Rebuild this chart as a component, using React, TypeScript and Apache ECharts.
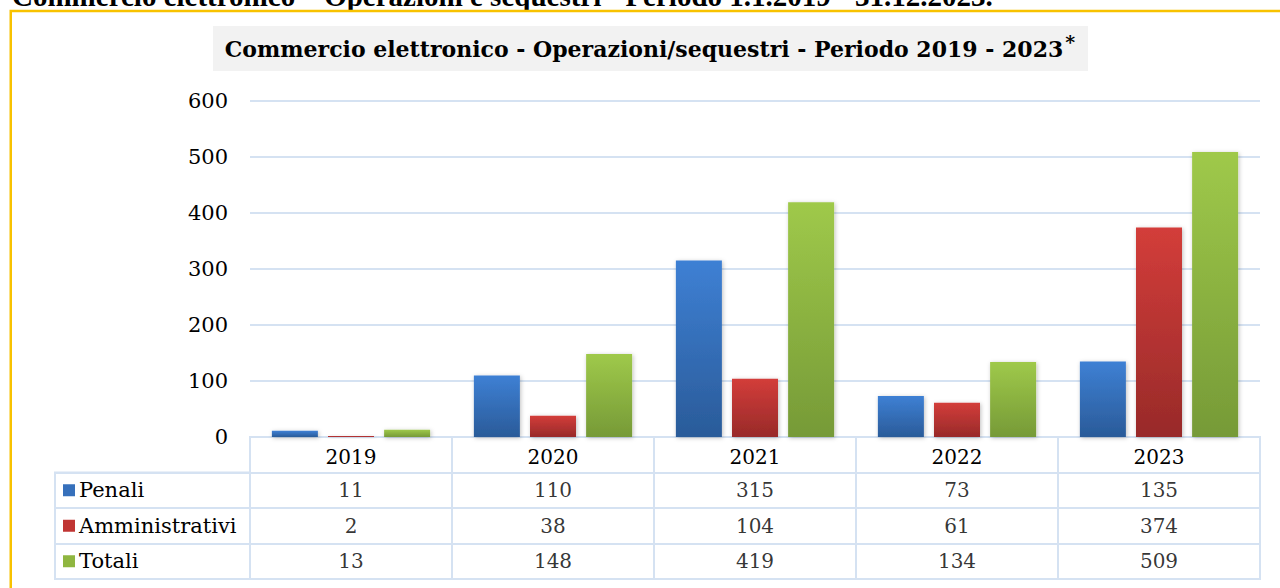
import React, { useEffect, useRef } from "react";
import * as echarts from "echarts";

const years = ["2019", "2020", "2021", "2022", "2023"];
const penali = [11, 110, 315, 73, 135];
const amministrativi = [2, 38, 104, 61, 374];
const totali = [13, 148, 419, 134, 509];
const seriesNames = ["Penali", "Amministrativi", "Totali"];
const yTicks = { min: 0, max: 600, interval: 100 };
const pageHeading = "Commercio elettronico \u2013 Operazioni e sequestri - Periodo 1.1.2019 - 31.12.2023.";
const chartTitle = "Commercio elettronico - Operazioni/sequestri - Periodo 2019 - 2023";

const colors = [
  { top: "#3e80d4", bottom: "#2a5b99", mark: "#3670bb" },
  { top: "#d33d3a", bottom: "#982a29", mark: "#c03533" },
  { top: "#9fc94a", bottom: "#769a37", mark: "#8fb640" },
];

const SERIF = "'DejaVu Serif', Georgia, serif";
const LINE = "#d5e2f2";

export default function App() {
  const ref = useRef<HTMLDivElement>(null);
  useEffect(() => {
    if (!ref.current) return;
    const chart = echarts.init(ref.current, undefined, { renderer: "svg" });
    const values = [penali, amministrativi, totali];
    const grad = (c: { top: string; bottom: string }) =>
      new echarts.graphic.LinearGradient(0, 0, 0, 1, [
        { offset: 0, color: c.top },
        { offset: 1, color: c.bottom },
      ]);
    const tableCells: any[] = [];
    values.forEach((arr, si) => {
      arr.forEach((v, i) => tableCells.push([years[i], seriesNames[si], v]));
    });
    const rich: any = { t: { fontFamily: SERIF, fontSize: 21, color: "#000", padding: [0, 0, 0, 4] } };
    seriesNames.forEach((n, i) => {
      rich["m" + i] = { width: 12, height: 12, backgroundColor: colors[i].mark };
    });

    chart.setOption({
      animation: false,
      backgroundColor: "#fff",
      graphic: [
        {
          type: "text",
          left: 12,
          top: -19,
          style: {
            text: pageHeading,
            font: "bold 29px 'Liberation Serif', 'Times New Roman', serif",
            fill: "#000",
          },
        },
        {
          type: "rect",
          shape: { x: 10.75, y: 11, width: 1400, height: 700 },
          style: { fill: "none", stroke: "#f8c200", lineWidth: 2.5 },
        },
        {
          type: "rect",
          shape: { x: 213, y: 26, width: 875, height: 45 },
          style: { fill: "#f2f2f2" },
        },
        {
          type: "text",
          x: 650,
          y: 49,
          style: {
            text: "{a|" + chartTitle + "}{s|*}",
            align: "center",
            verticalAlign: "middle",
            rich: {
              a: { font: "bold 22px " + SERIF, fill: "#000", color: "#000" },
              s: { font: "bold 19px " + SERIF, color: "#000", verticalAlign: "top", padding: [0, 0, 14, 2] },
            },
          },
        },
      ],
      grid: [
        { left: 250, right: 20, top: 101, bottom: 151 },
        { left: 250, right: 20, top: 437, bottom: 9, show: true, borderColor: LINE, borderWidth: 2 },
        { left: 55, width: 195, top: 472.5, bottom: 9, show: true, borderColor: LINE, borderWidth: 2 },
      ],
      xAxis: [
        {
          type: "category",
          data: years,
          gridIndex: 0,
          axisLine: { show: true, lineStyle: { color: LINE, width: 2 } },
          axisTick: { show: false },
          axisLabel: { fontFamily: SERIF, fontSize: 20, color: "#000", margin: 10 },
        },
        {
          type: "category",
          data: years,
          gridIndex: 1,
          axisLine: { show: false },
          axisTick: { show: false },
          axisLabel: { show: false },
          splitLine: { show: true, interval: 0, lineStyle: { color: LINE, width: 2 } },
        },
        {
          type: "category",
          data: [""],
          gridIndex: 2,
          axisLine: { show: false },
          axisTick: { show: false },
          axisLabel: { show: false },
        },
      ],
      yAxis: [
        {
          type: "value",
          gridIndex: 0,
          min: yTicks.min,
          max: yTicks.max,
          interval: yTicks.interval,
          axisLine: { show: false },
          axisTick: { show: false },
          axisLabel: { fontFamily: SERIF, fontSize: 21, color: "#000", margin: 22 },
          splitLine: { show: true, lineStyle: { color: LINE, width: 2 } },
        },
        {
          type: "category",
          gridIndex: 1,
          inverse: true,
          data: ["", ...seriesNames],
          axisLine: { show: false },
          axisTick: { show: false },
          axisLabel: { show: false },
          splitLine: { show: true, interval: 0, lineStyle: { color: LINE, width: 2 } },
        },
        {
          type: "category",
          gridIndex: 2,
          inverse: true,
          data: seriesNames,
          axisLine: { show: false },
          axisTick: { show: false },
          splitLine: { show: true, interval: 0, lineStyle: { color: LINE, width: 2 } },
          axisLabel: {
            inside: true,
            margin: 8,
            align: "left",
            formatter: (v: string) => "{m" + seriesNames.indexOf(v) + "|}{t|" + v + "}",
            rich,
          },
        },
      ],
      series: [
        ...values.map((arr, i) => ({
          type: "bar",
          name: seriesNames[i],
          xAxisIndex: 0,
          yAxisIndex: 0,
          data: arr,
          barWidth: 46,
          barGap: "22%",
          itemStyle: {
            color: grad(colors[i]),
            shadowBlur: 4,
            shadowColor: "rgba(0,0,0,0.25)",
            shadowOffsetX: 1,
            shadowOffsetY: 1,
          },
        })),
        {
          type: "scatter",
          xAxisIndex: 1,
          yAxisIndex: 1,
          data: tableCells,
          symbolSize: 1,
          itemStyle: { color: "rgba(0,0,0,0)" },
          label: {
            show: true,
            position: "inside",
            formatter: (p: any) => String(p.value[2]),
            fontFamily: SERIF,
            fontSize: 20,
            color: "#000",
          },
        },
      ],
    });
    return () => chart.dispose();
  }, []);
  return (
    <div
      ref={ref}
      style={{ position: "absolute", left: 0, top: 0, width: 1280, height: 588 }}
    />
  );
}
